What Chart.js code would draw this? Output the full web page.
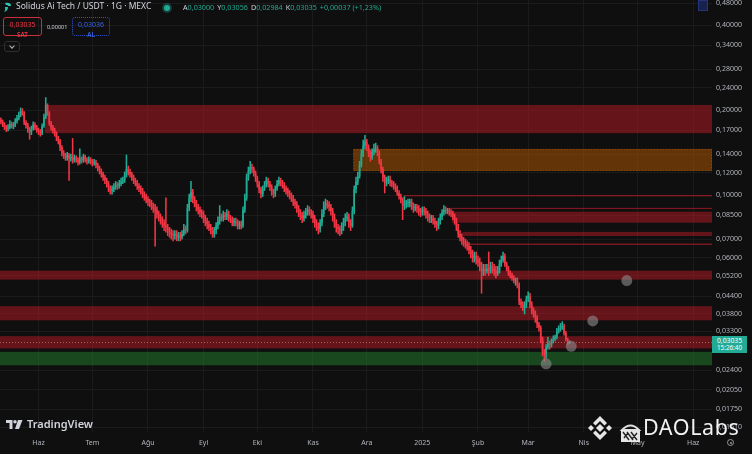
<!DOCTYPE html>
<html><head><meta charset="utf-8">
<script src="https://cdn.jsdelivr.net/npm/chart.js@4.4.1/dist/chart.umd.min.js"></script>
<style>
html,body{margin:0;padding:0;background:#0f0f0f;}
#wrap{position:relative;width:752px;height:454px;overflow:hidden;background:#0f0f0f;font-family:"Noto Sans",sans-serif;}
#c{position:absolute;left:0;top:0;}
.ov{position:absolute;white-space:nowrap;line-height:1;}
.k{color:#d1d4dc;}
.v{color:#22ab94;margin-right:3px;}
.box{position:absolute;box-sizing:border-box;border-radius:3px;text-align:center;}
</style></head><body>
<div id="wrap">
<canvas id="c" width="752" height="454"></canvas>

<svg class="ov" style="left:3px;top:2px" width="10" height="11" viewBox="0 0 10 11"><path d="M2 1 Q8 0 8 4 L5 4 Q5 2.5 3 3 Z" fill="#2ec4b0"/><path d="M2 5 L5 5 Q5 9 1 10 Q3 8 2 5 Z" fill="#2ec4b0"/></svg>
<div class="ov" style="left:16px;top:2px;font-size:8.5px;color:#d1d4dc;">Solidus Ai Tech / USDT · 1G · MEXC</div>
<div class="ov" style="left:164px;top:5px;width:6px;height:6px;border-radius:50%;background:#22ab94;box-shadow:0 0 0 2px rgba(34,171,148,0.3);"></div>
<div class="ov" style="left:183px;top:3.5px;font-size:7.2px;"><span class="k">A</span><span class="v">0,03000</span><span class="k">Y</span><span class="v">0,03056</span><span class="k">D</span><span class="v">0,02984</span><span class="k">K</span><span class="v">0,03035</span><span class="v">+0,00037 (+1,23%)</span></div>

<div class="box" style="left:3px;top:17px;width:39px;height:19px;border:1px solid #c8303d;color:#f23645;">
  <div style="font-size:7px;margin-top:2px;">0,03035</div><div style="font-size:6.3px;margin-top:0.5px;font-weight:600;">SAT</div></div>
<div class="ov" style="left:47px;top:24.5px;font-size:5.5px;color:#d1d4dc;">0,00001</div>
<div class="box" style="left:72px;top:17px;width:38px;height:19px;border:1px dotted #2f54d8;color:#3b63ea;">
  <div style="font-size:7px;margin-top:2px;">0,03036</div><div style="font-size:6.3px;margin-top:0.5px;font-weight:600;">AL</div></div>
<div class="box" style="left:4px;top:41px;width:16px;height:11px;border:1px solid #2e2e2e;">
  <div style="position:absolute;left:5px;top:2px;width:3px;height:3px;border-right:1px solid #b2b5be;border-bottom:1px solid #b2b5be;transform:rotate(45deg);"></div></div>

<div class="ov" style="left:698px;top:0px;width:10px;height:11px;background:#17224f;border:1px solid #24357a;box-sizing:border-box;"></div>

<svg class="ov" style="left:6px;top:420px" width="18" height="9" viewBox="0 0 36 18"><path d="M0 0H13V18H7V6H0Z" fill="#d1d4dc"/><circle cx="18" cy="3.5" r="3.5" fill="#d1d4dc"/><path d="M24 0H33L26 18H18Z" fill="#d1d4dc"/></svg>
<div class="ov" style="left:27px;top:418px;font-size:11px;font-weight:600;color:#d1d4dc;">TradingView</div>

<svg class="ov" style="left:586px;top:414px" width="28" height="28" viewBox="0 0 28 28" fill="#e6e6e6">
<polygon points="14,10 18,14 14,18 10,14"/><polygon points="5,11 8,14 5,17 2,14"/><polygon points="23,11 26,14 23,17 20,14"/>
<polygon points="14,2 21,9 18.5,11.5 14,7 9.5,11.5 7,9"/><polygon points="14,26 21,19 18.5,16.5 14,21 9.5,16.5 7,19"/></svg>
<svg class="ov" style="left:619px;top:422px" width="23" height="21" viewBox="0 0 23 21">
<path d="M3 8 Q11.5 -1 20 8 Z" fill="none" stroke="#e0e0e0" stroke-width="2"/><rect x="2" y="8" width="19" height="12" fill="#e6e6e6"/>
<path d="M4 10 L10 18 M8 10 L14 18 M12 10 L18 18 M5 16 L9 11 M13 17 L18 11" stroke="#222" stroke-width="1.4"/></svg>
<div class="ov" style="left:643px;top:416px;font-size:21.5px;letter-spacing:0.6px;color:#f2f2f2;">DAOLabs</div>
<div class="ov" style="left:727px;top:439px;width:7px;height:7px;border:1px solid #9a9a9a;border-radius:50%;box-sizing:border-box;"><div style="position:absolute;left:1.5px;top:1.5px;width:2px;height:2px;border-radius:50%;background:#9a9a9a;"></div></div>

<div id="plab" class="ov" style="left:712px;top:336px;width:35px;height:17px;background:#22ab94;color:#ffffff;text-align:center;">
  <div style="font-size:6.8px;margin-top:1.5px;">0,03035</div><div style="font-size:6.3px;margin-top:1px;">15:26:40</div></div>
</div>

<script>
// ---------- data ----------
const TOTAL_DAYS = 397;                 // 2024-05-11 .. 2025-06-11
const startDate = [2024, 4, 11];
const categories = [];
for (let i = 0; i < TOTAL_DAYS; i++) {
  categories.push(new Date(Date.UTC(startDate[0], startDate[1], startDate[2] + i)).toISOString().slice(0, 10));
}
const monthTickDates = ['2024-06-01','2024-07-01','2024-08-01','2024-09-01','2024-10-01','2024-11-01','2024-12-01','2025-01-01','2025-02-01','2025-03-01','2025-04-01','2025-05-01','2025-06-01'];
const monthTickLabels = ['Haz','Tem','Ağu','Eyl','Eki','Kas','Ara','2025','Şub','Mar','Nis','May','Haz'];
const priceTicks = [0.48,0.40,0.34,0.28,0.24,0.20,0.17,0.14,0.12,0.10,0.085,0.07,0.06,0.052,0.044,0.038,0.033,0.024,0.0205,0.0175,0.0151];

const firstOpen = 0.185;
const closes = [
.182,.178,.175,.172,.174,.179,.176,.177,.183,.188,
.193,.199,.196,.181,.177,.171,.167,.172,.178,.174,
.170,.168,.166,.176,.189,.208,.196,.180,.174,.170,
.166,.160,.156,.148,.141,.138,.136,.139,.135,.137,
.133,.136,.134,.131,.135,.133,.137,.134,.132,.134,
.132,.130,.131,.128,.125,.122,.119,.116,.113,.110,
.106,.104,.105,.107,.109,.108,.110,.112,.113,.118,
.124,.121,.119,.116,.113,.111,.108,.106,.104,.101,
.099,.097,.095,.094,.092,.090,.089,.086,.084,.082,
.080,.078,.077,.075,.074,.073,.072,.073,.071,.072,
.071,.073,.076,.075,.090,.098,.103,.097,.094,.091,
.089,.087,.086,.083,.081,.079,.077,.075,.073,.075,
.078,.081,.084,.083,.085,.084,.086,.083,.082,.080,
.081,.080,.078,.079,.078,.089,.098,.116,.122,.126,
.124,.120,.115,.110,.105,.101,.106,.109,.113,.110,
.107,.103,.101,.106,.110,.113,.111,.109,.106,.104,
.102,.100,.098,.095,.093,.090,.087,.085,.083,.085,
.087,.089,.087,.086,.083,.080,.078,.076,.080,.086,
.092,.094,.093,.091,.088,.084,.080,.077,.076,.075,
.077,.080,.083,.084,.080,.078,.088,.105,.112,.117,
.128,.140,.150,.155,.148,.141,.136,.142,.146,.147,
.141,.132,.124,.116,.111,.113,.114,.111,.110,.108,
.106,.102,.099,.096,.092,.093,.094,.094,.095,.092,
.090,.091,.090,.088,.087,.089,.088,.086,.084,.083,
.083,.081,.079,.078,.081,.084,.087,.089,.088,.088,
.087,.086,.084,.081,.077,.073,.071,.069,.068,.067,
.066,.064,.062,.060,.061,.059,.058,.056,.054,.055,
.054,.055,.054,.056,.055,.054,.053,.054,.057,.059,
.061,.057,.055,.053,.052,.051,.050,.050,.048,.042,
.041,.040,.041,.043,.044,.041,.039,.038,.037,.035,
.034,.031,.028,.0275,.029,.030,.0295,.0305,.031,.0315,
.033,.0335,.034,.0345,.0325,.0309,.02998,.03035];
const highs = [
.188,.185,.181,.177,.178,.184,.182,.181,.187,.192,
.197,.204,.203,.198,.184,.180,.174,.176,.182,.181,
.177,.173,.171,.179,.194,.222,.211,.198,.183,.177,
.173,.168,.162,.158,.150,.144,.141,.142,.141,.140,
.159,.139,.138,.136,.146,.137,.140,.139,.136,.137,
.136,.134,.134,.133,.130,.127,.124,.121,.118,.115,
.112,.108,.108,.110,.112,.111,.113,.115,.116,.121,
.139,.127,.124,.121,.118,.115,.113,.110,.108,.106,
.103,.101,.099,.097,.096,.094,.093,.091,.088,.086,
.084,.082,.098,.079,.077,.076,.075,.075,.075,.074,
.074,.075,.079,.078,.093,.101,.112,.105,.099,.096,
.093,.091,.089,.088,.085,.083,.081,.079,.077,.077,
.080,.084,.092,.086,.088,.087,.089,.088,.085,.084,
.083,.083,.082,.081,.081,.091,.101,.119,.126,.132,
.129,.126,.122,.117,.112,.107,.108,.112,.116,.115,
.112,.109,.105,.108,.113,.116,.115,.113,.111,.108,
.106,.104,.102,.100,.097,.095,.092,.089,.087,.088,
.090,.092,.091,.089,.088,.085,.082,.080,.082,.089,
.095,.097,.096,.095,.093,.090,.086,.082,.079,.078,
.080,.083,.086,.087,.086,.082,.091,.108,.116,.121,
.132,.145,.157,.163,.158,.151,.144,.146,.152,.153,
.150,.144,.134,.126,.118,.116,.117,.117,.113,.112,
.110,.108,.104,.101,.098,.099,.096,.097,.097,.097,
.094,.093,.093,.092,.090,.091,.091,.090,.088,.086,
.085,.085,.083,.081,.083,.086,.089,.092,.091,.090,
.090,.089,.088,.086,.083,.079,.075,.073,.071,.070,
.069,.068,.066,.064,.063,.063,.061,.060,.058,.057,
.057,.057,.063,.058,.058,.057,.056,.056,.059,.061,
.063,.062,.058,.056,.054,.053,.052,.051,.051,.049,
.043,.042,.042,.044,.0455,.045,.042,.040,.039,.0375,
.0355,.0345,.0315,.0285,.0296,.0315,.0305,.031,.0318,.032,
.0338,.0345,.0352,.0357,.035,.033,.0312,.03056];
const lows = [
.179,.175,.171,.168,.169,.172,.173,.172,.175,.180,
.185,.190,.192,.178,.173,.167,.158,.164,.170,.171,
.167,.164,.162,.164,.174,.187,.192,.177,.170,.166,
.162,.156,.152,.144,.138,.135,.133,.133,.113,.132,
.130,.131,.131,.128,.129,.130,.131,.131,.129,.130,
.129,.127,.128,.125,.122,.119,.116,.113,.110,.107,
.103,.101,.101,.103,.105,.105,.106,.108,.110,.111,
.116,.118,.116,.113,.110,.108,.105,.103,.101,.098,
.096,.094,.092,.091,.089,.087,.066,.083,.081,.079,
.077,.075,.074,.072,.071,.070,.069,.070,.069,.069,
.069,.070,.072,.073,.074,.088,.095,.094,.091,.088,
.086,.084,.083,.080,.078,.076,.075,.073,.071,.071,
.073,.076,.079,.081,.081,.082,.082,.081,.080,.078,
.078,.078,.076,.076,.076,.077,.087,.096,.113,.119,
.120,.117,.112,.107,.102,.098,.099,.104,.107,.107,
.104,.100,.098,.099,.104,.108,.108,.106,.103,.101,
.099,.097,.095,.092,.090,.087,.084,.082,.080,.081,
.083,.085,.085,.083,.080,.077,.075,.073,.074,.078,
.084,.089,.090,.088,.085,.081,.077,.074,.073,.072,
.073,.075,.078,.081,.077,.075,.077,.086,.102,.109,
.115,.126,.137,.146,.144,.137,.132,.134,.139,.142,
.138,.129,.120,.112,.102,.108,.110,.108,.107,.105,
.103,.100,.097,.094,.082,.089,.090,.091,.091,.089,
.087,.088,.087,.085,.084,.085,.085,.083,.081,.080,
.080,.079,.077,.075,.076,.079,.082,.085,.086,.086,
.085,.084,.082,.079,.075,.071,.069,.067,.066,.065,
.064,.062,.060,.058,.058,.057,.056,.054,.045,.052,
.052,.053,.052,.053,.053,.052,.051,.052,.053,.056,
.058,.056,.054,.052,.051,.050,.049,.048,.047,.041,
.040,.039,.038,.040,.042,.040,.038,.037,.0355,.034,
.033,.030,.027,.0258,.0265,.0285,.0285,.029,.030,.0305,
.031,.0325,.033,.0335,.032,.0305,.0296,.02984];
const opens = closes.map((c, i) => i === 0 ? firstOpen : closes[i - 1]);

// horizontal zones: start day index, upper price, lower price, kind
const zoneStart  = [25, 197, 225, 251, 252, 258, 261, 0, 0, 0, 0];
const zoneTop    = [0.209, 0.146, 0.1003, 0.0903, 0.0875, 0.0742, 0.0675, 0.0541, 0.0405, 0.0317, 0.0279];
const zoneBottom = [0.166, 0.122, 0.0992, 0.0895, 0.0800, 0.0718, 0.0667, 0.0503, 0.0361, 0.0287, 0.0250];
const zoneKind   = ['red','orange','line','line','red','red','line','red','red','red','green'];

// grey target circles
const markDay   = [304, 318, 330, 349];
const markPrice = [0.0253, 0.0292, 0.0359, 0.0499];

const lastPrice = closes[closes.length - 1];

// ---------- styles ----------
const UP = '#22ab94', DOWN = '#f23645';
const zoneFill = {red: 'rgba(188,28,38,0.5)', line: 'rgba(196,30,42,0.6)', orange: 'rgba(182,90,0,0.5)', green: 'rgba(36,128,46,0.5)'};
const candleColors = closes.map((c, i) => c >= opens[i] ? UP : DOWN);

Chart.defaults.font.family = '"Noto Sans", sans-serif';

const zonesPlugin = {
  id: 'zones',
  beforeDatasetsDraw(chart) {
    const {ctx, chartArea: a, scales: {x, y}} = chart;
    const half = (x.getPixelForValue(1) - x.getPixelForValue(0)) / 2;
    ctx.save();
    ctx.beginPath(); ctx.rect(a.left, a.top, a.right - a.left, a.bottom - a.top); ctx.clip();
    zoneStart.forEach((s, i) => {
      const x0 = s === 0 ? a.left : x.getPixelForValue(s) - half;
      const y0 = y.getPixelForValue(zoneTop[i]);
      const y1 = y.getPixelForValue(zoneBottom[i]);
      ctx.fillStyle = zoneFill[zoneKind[i]];
      ctx.fillRect(x0, y0, a.right - x0, Math.max(1.2, y1 - y0));
      if (zoneKind[i] === 'orange') {
        ctx.strokeStyle = 'rgba(220,115,0,0.5)'; ctx.lineWidth = 1; ctx.setLineDash([1, 2]);
        ctx.strokeRect(x0 + 0.5, y0 + 0.5, a.right - x0 - 1, y1 - y0 - 1);
        ctx.setLineDash([]);
      }
    });
    const py = Math.round(y.getPixelForValue(lastPrice)) + 0.5;
    ctx.strokeStyle = 'rgba(190,120,110,0.75)'; ctx.lineWidth = 1; ctx.setLineDash([1, 2]);
    ctx.beginPath(); ctx.moveTo(a.left, py); ctx.lineTo(a.right, py); ctx.stroke();
    ctx.restore();
  },
  afterDraw(chart) {
    const py = chart.scales.y.getPixelForValue(lastPrice);
    document.getElementById('plab').style.top = (py - 5.5) + 'px';
  }
};

new Chart(document.getElementById('c'), {
  data: {
    labels: categories,
    datasets: [
      {type: 'line', data: markDay.map((d, i) => ({x: categories[d], y: markPrice[i]})), showLine: false,
       pointRadius: 5.5, pointBackgroundColor: 'rgba(140,140,140,0.6)', pointBorderWidth: 0, order: 0, clip: false},
      {type: 'bar', data: closes.map((c, i) => [opens[i], c]), backgroundColor: candleColors,
       grouped: false, barPercentage: 0.9, categoryPercentage: 1, minBarLength: 1, borderWidth: 0, order: 1},
      {type: 'bar', data: closes.map((c, i) => [lows[i], highs[i]]), backgroundColor: candleColors,
       grouped: false, barThickness: 0.9, minBarLength: 1, borderWidth: 0, order: 2}
    ]
  },
  options: {
    responsive: false, animation: false, events: [],
    layout: {padding: 0, autoPadding: false},
    plugins: {legend: {display: false}, tooltip: {enabled: false}},
    scales: {
      x: {
        type: 'category', offset: true,
        grid: {color: '#1b1b1b', drawTicks: false, offset: false},
        border: {display: false},
        afterBuildTicks(axis) { axis.ticks = monthTickDates.map(d => ({value: categories.indexOf(d)})); },
        ticks: {autoSkip: false, maxRotation: 0, minRotation: 0, color: '#b2b5be', font: {size: 7}, padding: 7,
          callback(v) { return monthTickLabels[monthTickDates.indexOf(categories[v])]; }},
        afterFit(s) { s.height = 22; s.paddingLeft = 0; s.paddingRight = 0; }
      },
      y: {
        type: 'logarithmic', position: 'right', min: 0.014513, max: 0.49189,
        grid: {color: '#1b1b1b', drawTicks: false},
        border: {display: false},
        afterBuildTicks(axis) { axis.ticks = priceTicks.map(v => ({value: v})); },
        ticks: {autoSkip: false, color: '#b2b5be', font: {size: 7}, padding: 4, crossAlign: 'near',
          callback(v) { return Number(v).toFixed(5).replace('.', ','); }},
        afterFit(s) { s.width = 40; s.paddingTop = 0; s.paddingBottom = 0; }
      }
    }
  },
  plugins: [zonesPlugin]
});
</script>
</body></html>
